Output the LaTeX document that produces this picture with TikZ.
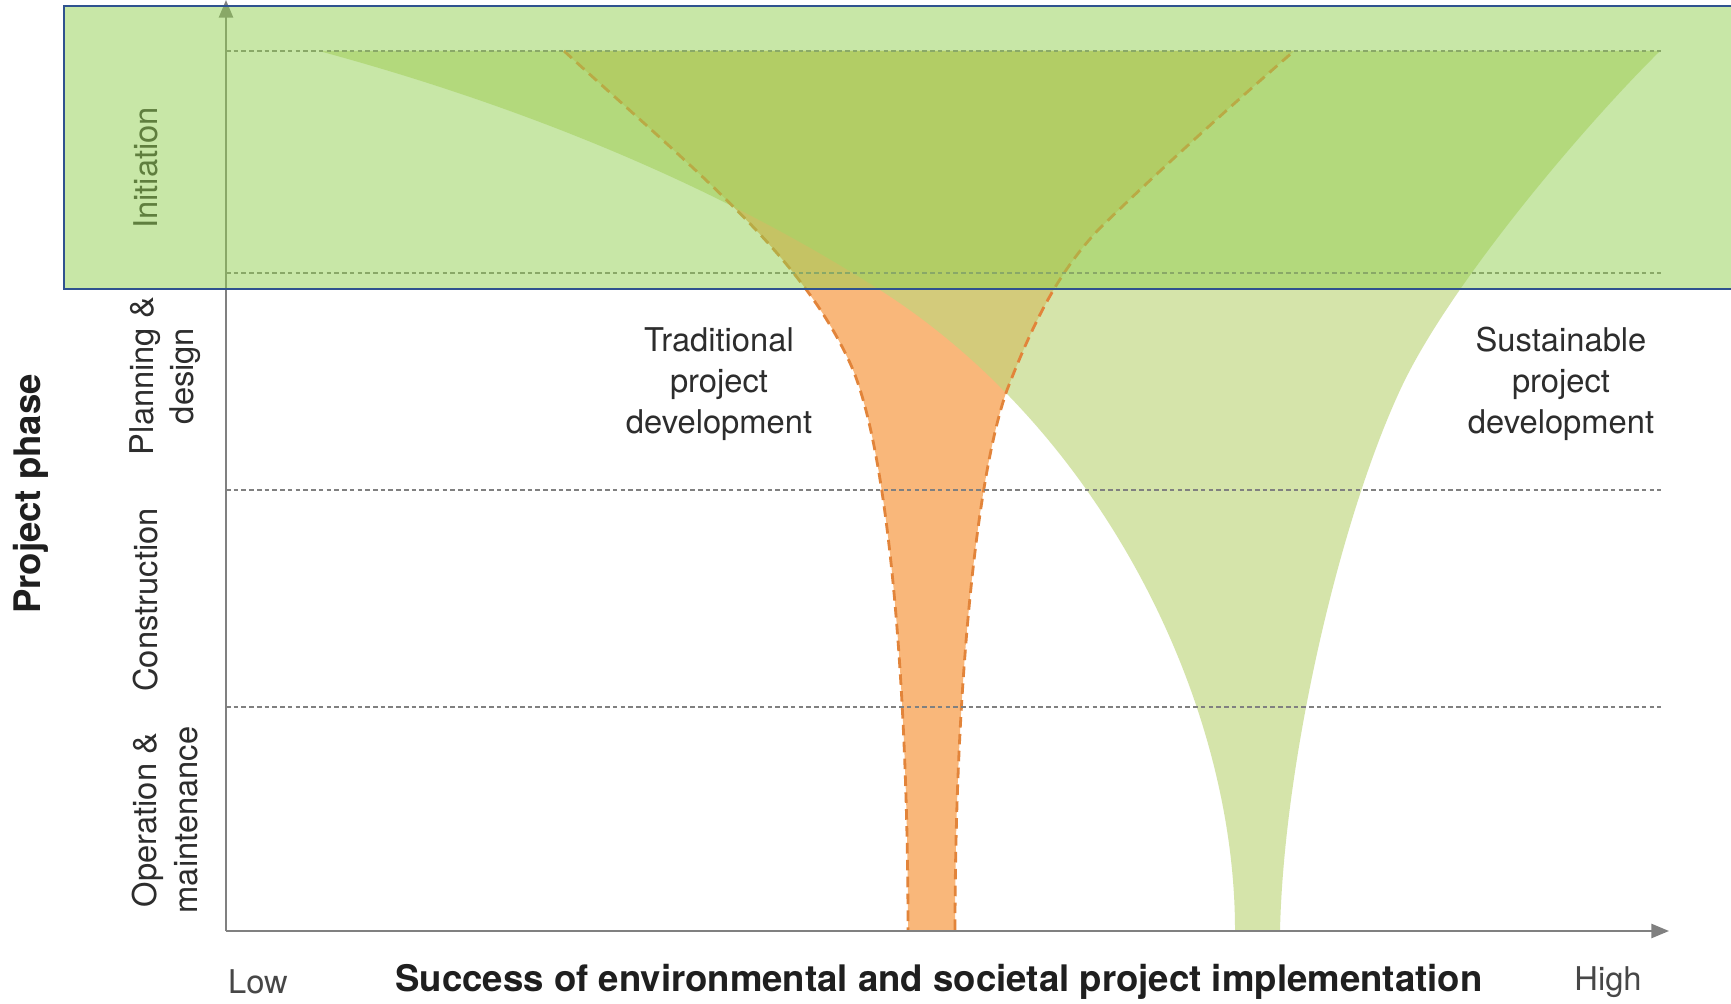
\documentclass[tikz,border=0pt]{standalone}
\usepackage{fontspec}
\setmainfont{TeX Gyre Heros}
\usetikzlibrary{arrows.meta}
\definecolor{orangefill}{RGB}{249,183,122}
\definecolor{orangeedge}{RGB}{226,132,58}
\definecolor{greenfill}{RGB}{191,214,125}
\definecolor{overlay}{HTML}{92D050}
\definecolor{framebox}{HTML}{2F528F}
\definecolor{axisgray}{RGB}{128,128,128}
\definecolor{labelgray}{RGB}{45,45,45}

\tikzset{
  phaseline/.style={axisgray,line width=0.4pt,dash pattern=on 1.3pt off 0.9pt},
  tradedge/.style={orangeedge,line width=0.8pt,dash pattern=on 3pt off 1.8pt},
  axisline/.style={axisgray,line width=0.6pt,-{Triangle[length=5pt,width=4pt]}},
  phaselabel/.style={rotate=90,labelgray,align=center,font=\fontsize{9.3}{11.4}\selectfont},
  funnellabel/.style={labelgray,align=center,font=\fontsize{9.3}{11.7}\selectfont},
  axistitle/.style={black!88,font=\fontsize{10.4}{12}\selectfont\bfseries}
}

% funnel outlines
\newcommand{\tradleft}{(564,51) .. controls (700,175) and (800,254) .. (850,363) .. controls (890,450) and (908,700) .. (908,930)}
\newcommand{\tradright}{(955,930) .. controls (955,700) and (975,480) .. (1007,390) .. controls (1035,318) and (1060,270) .. (1100,228) .. controls (1170,160) and (1240,98) .. (1294,51)}
\newcommand{\sustleft}{(319,51) .. controls (500,100) and (700,175) .. (880,290) .. controls (1100,430) and (1235,700) .. (1235,930)}
\newcommand{\sustright}{(1280,930) .. controls (1284,760) and (1340,517) .. (1402,386) .. controls (1450,285) and (1580,130) .. (1660,51)}

\begin{document}
\begin{tikzpicture}[x=0.01cm,y=-0.01cm]
\clip (0,0) rectangle (1731,1004);
\fill[white] (0,0) rectangle (1731,1004);

% traditional and sustainable funnels
\fill[orangefill] \tradleft -- \tradright -- cycle;
\fill[greenfill,fill opacity=.65] \sustleft -- \sustright -- cycle;
\draw[tradedge] \tradleft;
\draw[tradedge] \tradright;

% phase borders
\foreach \y in {51,273,490,707}{\draw[phaseline] (226,\y)--(1661,\y);}

% axes
\coordinate (origin) at (226,931);
\coordinate (xend) at (1669,931);
\coordinate (yend) at (226,0);
\draw[axisline] (origin)--(xend);
\draw[axisline] (origin)--(yend);

% phases
\node[axistitle,rotate=90] (phase) at (31,494) {Project phase};
\node[phaselabel] (init) at (146,168) {Initiation};
\node[phaselabel] (plan) at (165,376) {Planning \&\\design};
\node[phaselabel] (cons) at (146,600) {Construction};
\node[phaselabel] (oper) at (165,820) {Operation \&\\maintenance};

\node[funnellabel] (trad) at (719,384) {Traditional\\project\\development};
\node[funnellabel] (sust) at (1561,384) {Sustainable\\project\\development};

\node[funnellabel,text=black!72] (low) at (258,982) {Low};
\node[axistitle] (success) at (939,982) {Success of environmental and societal project implementation};
\node[funnellabel,text=black!72] (high) at (1608,982) {High};

% highlighted initiation band
\draw[fill=overlay,fill opacity=.5,draw=framebox,line width=.6pt] (64,6) rectangle (1760,289);
\end{tikzpicture}
\end{document}
